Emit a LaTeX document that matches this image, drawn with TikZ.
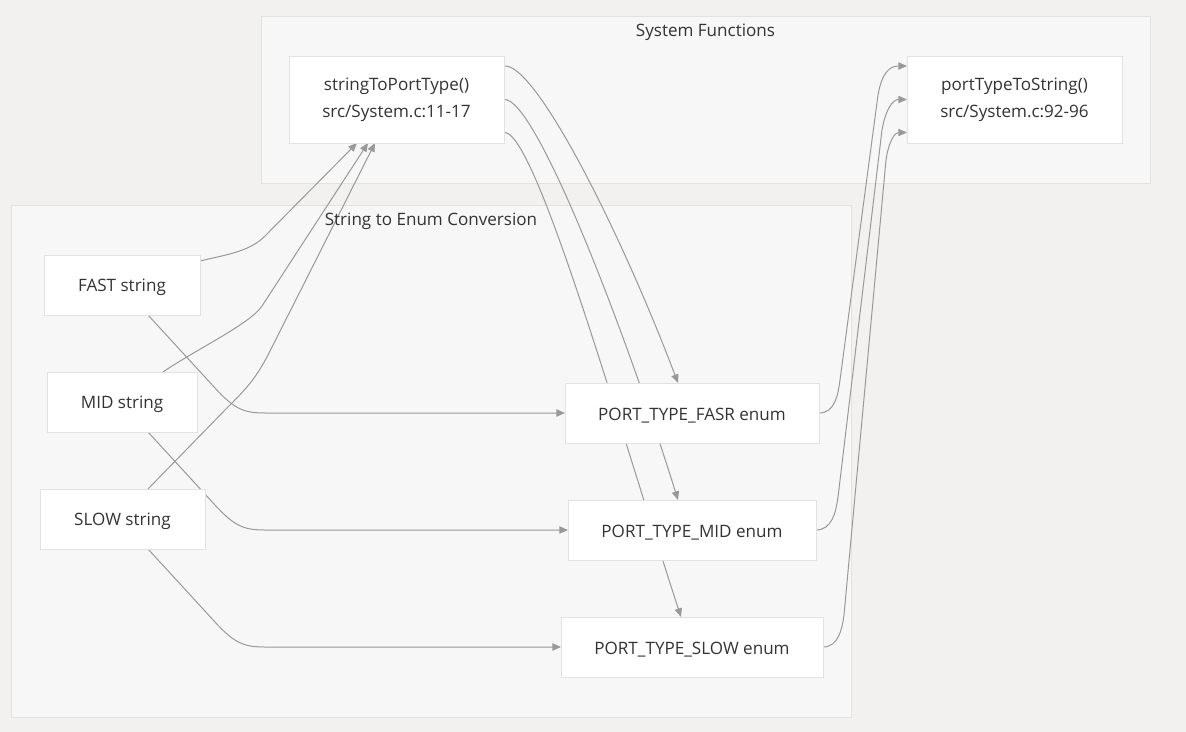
\documentclass[tikz,border=0pt]{standalone}
\usepackage{fontspec}
\setmainfont{Open Sans}
\usetikzlibrary{arrows.meta,calc}

\definecolor{pagebg}{HTML}{F2F1EF}
\definecolor{groupfill}{HTML}{F7F7F7}
\definecolor{groupline}{HTML}{E2E2E2}
\definecolor{boxline}{HTML}{E2E2E2}
\definecolor{inktext}{HTML}{333333}
\definecolor{wire}{HTML}{999999}

\pgfdeclarelayer{pagelayer}
\pgfdeclarelayer{grouplayer}
\pgfdeclarelayer{wirelayer}
\pgfsetlayers{pagelayer,grouplayer,wirelayer,main}

\tikzset{
  labelfont/.style={font=\fontsize{12.8}{20.25}\selectfont, text=inktext},
  box/.style={draw=boxline, fill=white, line width=0.75pt, inner sep=0pt,
    outer sep=0pt, align=center, labelfont,
    execute at begin node={\rule{0pt}{12.8pt}}},
  group/.style={draw=groupline, fill=groupfill, line width=0.75pt},
  grouptitle/.style={labelfont, inner sep=0pt},
  link/.style={draw=wire, line width=0.75pt,
    -{Triangle[length=6.5pt,width=5.5pt]}},
}

\begin{document}
\begin{tikzpicture}[x=0.75pt,y=-0.75pt]
  % page and groups
  \begin{pgfonlayer}{pagelayer}
    \fill[pagebg] (0,0) rectangle (1186,732);
  \end{pgfonlayer}
  \useasboundingbox (0,0) rectangle (1186,732);
  \begin{pgfonlayer}{grouplayer}
    \draw[group] (261,16) rectangle (1150,183);
    \draw[group] (11,205) rectangle (851,717);
  \end{pgfonlayer}
  \node[grouptitle] (systitle) at (705.5,32) {System Functions};
  \node[grouptitle] (convtitle) at (431,221) {String to Enum Conversion};

  % nodes
  \node[box, minimum width=161.25pt, minimum height=65.25pt] (stp) at (396.5,99.5)
    {stringToPortType()\\src/System.c:11-17};
  \node[box, minimum width=161.25pt, minimum height=65.25pt] (pts) at (1014.5,99.5)
    {portTypeToString()\\src/System.c:92-96};

  \node[box, minimum width=117pt, minimum height=45pt] (fast) at (122,285) {FAST string};
  \node[box, minimum width=112.5pt, minimum height=45pt] (mid) at (122,402) {MID string};
  \node[box, minimum width=123.75pt, minimum height=45pt] (slow) at (122.5,519) {SLOW string};

  \node[box, minimum width=190.5pt, minimum height=45pt] (fasr) at (692,413) {PORT\_TYPE\_FASR enum};
  \node[box, minimum width=186pt, minimum height=45pt] (mide) at (692,530) {PORT\_TYPE\_MID enum};
  \node[box, minimum width=196.5pt, minimum height=45pt] (slowe) at (692,647) {PORT\_TYPE\_SLOW enum};

  % connectors
  \begin{pgfonlayer}{wirelayer}
    % strings into the parser
    \draw[link] ($(fast.east)+(0,-24)$) .. controls (230,254) and (250,251) .. (265,236)
      -- ($(stp.south)+(-39.5,0)$);
    \draw[link] ($(mid.north)+(41,0)$) .. controls (195,350) and (250,324) .. (262,306)
      -- ($(stp.south)+(-28.5,0)$);
    \draw[link] ($(slow.north)+(25.5,0)$) -- (225,410) .. controls (245,390) and (255,380) .. (268,355)
      -- ($(stp.south)+(-21.5,0)$);

    % strings to enum values
    \draw[link] ($(fast.south)+(26,0)$) -- (215,388) .. controls (235,410) and (245,413) .. (265,413)
      -- (fasr.west);
    \draw[link] ($(mid.south)+(26,0)$) -- (215,505) .. controls (235,527) and (245,530) .. (265,530)
      -- (mide.west);
    \draw[link] ($(slow.south)+(25.5,0)$) -- (215,622) .. controls (235,644) and (245,647) .. (265,647)
      -- (slowe.west);

    % parser to enum values
    \draw[link] ($(stp.east)+(0,-33.5)$) .. controls (535,62) and (620,230) .. ($(fasr.north)+(-14,0)$);
    \draw[link] (stp.east) .. controls (535,96) and (625,330) .. ($(mide.north)+(-14,0)$);
    \draw[link] ($(stp.east)+(0,33)$) .. controls (535,129) and (620,430) .. ($(slowe.north)+(-11,0)$);

    % enum values back to strings
    \draw[link] (fasr.east) .. controls (835,413) and (838,395) .. (840,380)
      -- (878,95) .. controls (882,72) and (890,66) .. ($(pts.west)+(0,-33.5)$);
    \draw[link] (mide.east) .. controls (832,530) and (836,512) .. (838,497)
      -- (882,130) .. controls (886,108) and (893,99.5) .. (pts.west);
    \draw[link] (slowe.east) .. controls (838,647) and (842,630) .. (844,615)
      -- (886,160) .. controls (889,140) and (895,132.5) .. ($(pts.west)+(0,33)$);
  \end{pgfonlayer}
\end{tikzpicture}
\end{document}
